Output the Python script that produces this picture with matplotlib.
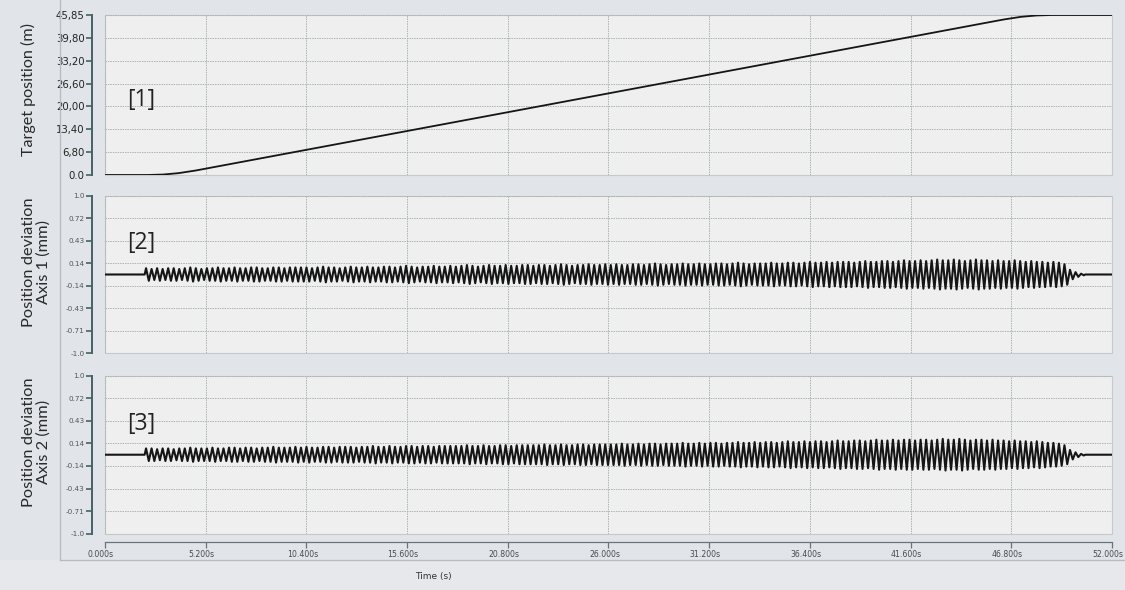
import numpy as np
from matplotlib import pyplot as plt
from matplotlib.lines import Line2D
from matplotlib.patches import Rectangle
from matplotlib.transforms import ScaledTranslation

# target position profile (s, m)
target_t = [0.0, 2.2, 3.0, 3.8, 4.7, 10.4, 20.8, 31.2, 41.6, 46.4, 47.3, 48.1, 48.9, 52.0]
target_m = [0.0, 0.0, 0.13, 0.53, 1.30, 7.21, 17.99, 28.78, 39.57, 44.55, 45.32, 45.71, 45.85, 45.85]

# oscillation of the position deviation, one amplitude per cycle (mm)
dev_start = 2.05
dev_period = 0.2857
dev1_amp = [
    0.08, 0.07, 0.08, 0.07, 0.08, 0.08, 0.07, 0.08, 0.09, 0.08, 0.07, 0.08, 0.08, 0.09,
    0.08, 0.08, 0.09, 0.08, 0.08, 0.09, 0.09, 0.08, 0.08, 0.09, 0.09, 0.08, 0.09, 0.09,
    0.09, 0.09, 0.08, 0.09, 0.10, 0.09, 0.09, 0.08, 0.09, 0.10, 0.09, 0.09, 0.10, 0.09,
    0.09, 0.10, 0.10, 0.09, 0.10, 0.11, 0.10, 0.09, 0.10, 0.10, 0.11, 0.10, 0.10, 0.11,
    0.10, 0.11, 0.12, 0.11, 0.10, 0.11, 0.12, 0.11, 0.11, 0.12, 0.11, 0.11, 0.12, 0.12,
    0.11, 0.12, 0.12, 0.11, 0.12, 0.13, 0.12, 0.11, 0.12, 0.12, 0.13, 0.12, 0.12, 0.13,
    0.12, 0.13, 0.12, 0.12, 0.13, 0.13, 0.12, 0.13, 0.14, 0.13, 0.12, 0.13, 0.13, 0.14,
    0.13, 0.13, 0.14, 0.13, 0.13, 0.14, 0.14, 0.13, 0.14, 0.15, 0.14, 0.13, 0.14, 0.14,
    0.14, 0.15, 0.14, 0.14, 0.15, 0.15, 0.14, 0.15, 0.16, 0.15, 0.15, 0.16, 0.15, 0.16,
    0.16, 0.16, 0.15, 0.16, 0.17, 0.16, 0.16, 0.17, 0.17, 0.16, 0.17, 0.18, 0.17, 0.17,
    0.18, 0.17, 0.18, 0.19, 0.18, 0.18, 0.19, 0.18, 0.17, 0.18, 0.19, 0.18, 0.18, 0.17,
    0.18, 0.17, 0.17, 0.18, 0.17, 0.16, 0.17, 0.16, 0.16, 0.15, 0.16, 0.15, 0.13, 0.06,
    0.03, 0.01,
]
dev2_amp = [
    0.08, 0.08, 0.07, 0.08, 0.08, 0.07, 0.08, 0.08, 0.09, 0.08, 0.08, 0.08, 0.09, 0.08,
    0.08, 0.09, 0.09, 0.08, 0.09, 0.09, 0.08, 0.09, 0.09, 0.10, 0.09, 0.09, 0.09, 0.10,
    0.09, 0.10, 0.09, 0.09, 0.10, 0.10, 0.09, 0.10, 0.10, 0.10, 0.09, 0.10, 0.10, 0.11,
    0.10, 0.10, 0.11, 0.10, 0.10, 0.11, 0.11, 0.10, 0.11, 0.11, 0.10, 0.11, 0.11, 0.11,
    0.11, 0.11, 0.12, 0.11, 0.11, 0.12, 0.11, 0.11, 0.12, 0.12, 0.11, 0.12, 0.12, 0.12,
    0.12, 0.12, 0.13, 0.12, 0.12, 0.13, 0.12, 0.12, 0.13, 0.13, 0.12, 0.13, 0.13, 0.13,
    0.13, 0.13, 0.14, 0.13, 0.13, 0.14, 0.13, 0.14, 0.14, 0.13, 0.14, 0.14, 0.14, 0.15,
    0.14, 0.14, 0.15, 0.14, 0.15, 0.15, 0.14, 0.15, 0.15, 0.16, 0.15, 0.15, 0.16, 0.15,
    0.16, 0.16, 0.15, 0.16, 0.17, 0.16, 0.16, 0.17, 0.16, 0.17, 0.17, 0.16, 0.17, 0.18,
    0.17, 0.17, 0.18, 0.18, 0.17, 0.18, 0.19, 0.18, 0.18, 0.19, 0.18, 0.19, 0.19, 0.18,
    0.19, 0.19, 0.18, 0.19, 0.20, 0.19, 0.19, 0.20, 0.19, 0.18, 0.19, 0.19, 0.18, 0.19,
    0.18, 0.18, 0.17, 0.18, 0.17, 0.17, 0.16, 0.17, 0.16, 0.15, 0.15, 0.14, 0.12, 0.06,
    0.03, 0.01,
]

x_ticks = [0.0, 5.2, 10.4, 15.6, 20.8, 26.0, 31.2, 36.4, 41.6, 46.8, 52.0]
pos_ticklabels = ["0.0", "6,80", "13,40", "20,00", "26,60", "33,20", "39,80", "45,85"]
dev_ticklabels = ["-1.0", "-0.71", "-0.43", "-0.14", "0.14", "0.43", "0.72", "1.0"]
panel_tags = ["[1]", "[2]", "[3]"]
y_labels = ["Target position (m)", "Position deviation\nAxis 1 (mm)", "Position deviation\nAxis 2 (mm)"]

BG = "#e1e4e8"
PLOT_BG = "#efefef"
GRID = "#a9b6b0"
SPINE = "#44626a"


def zigzag(amps):
    # alternate +a / -a at quarter periods, flat zero before and after
    t = [0.0, dev_start]
    v = [0.0, 0.0]
    for i, a in enumerate(amps):
        t += [dev_start + (i + 0.25) * dev_period, dev_start + (i + 0.75) * dev_period]
        v += [a, -a]
    t += [dev_start + len(amps) * dev_period, 52.0]
    v += [0.0, 0.0]
    return np.array(t), np.array(v)


def style_axis(ax, show_x):
    ax.set_facecolor(PLOT_BG)
    ax.patch.set_edgecolor("#c6c9cc")
    ax.patch.set_linewidth(0.8)
    for s in ["top", "right", "bottom"]:
        ax.spines[s].set_visible(False)
    ax.spines["left"].set_position(("outward", 9))
    ax.spines["left"].set_color(SPINE)
    ax.spines["left"].set_linewidth(1.4)
    ax.tick_params(axis="y", direction="out", length=4, width=1.2, color=SPINE, pad=1.5)
    ax.set_xlim(0, 52)
    ax.set_xticks(x_ticks)
    ax.grid(True, color=GRID, linestyle=(0, (1.5, 1)), linewidth=0.7)
    ax.set_axisbelow(True)
    if show_x:
        ax.spines["bottom"].set_visible(True)
        ax.spines["bottom"].set_position(("outward", 6))
        ax.spines["bottom"].set_color("#6a7378")
        ax.spines["bottom"].set_linewidth(0.9)
        ax.tick_params(axis="x", direction="out", length=4, width=0.9, color="#6a7378",
                       labelsize=5.6, labelcolor="#4a4a4a", pad=2)
        ax.set_xticklabels([f"{v:.3f}s" for v in x_ticks])
    else:
        ax.tick_params(axis="x", length=0, labelbottom=False)


fig = plt.figure(figsize=(11.25, 5.9), dpi=100, facecolor=BG)
fig.patches.append(Rectangle((0, 0), 1, 30 / 590, transform=fig.transFigure,
                             facecolor="#e6e8eb", edgecolor="none", zorder=-5))
fig.add_artist(Line2D([60 / 1125, 60 / 1125], [30 / 590, 1], transform=fig.transFigure,
                      color="#b5babf", lw=0.9))
fig.add_artist(Line2D([60 / 1125, 1], [30 / 590, 30 / 590], transform=fig.transFigure,
                      color="#b5babf", lw=0.9))

ax1 = fig.add_axes([0.0933, 0.7034, 0.8951, 0.2712])
ax2 = fig.add_axes([0.0933, 0.4012, 0.8951, 0.2671])
ax3 = fig.add_axes([0.0933, 0.0954, 0.8951, 0.2678])

style_axis(ax1, False)
ax1.plot(target_t, target_m, color="#151515", lw=1.3)
ax1.set_ylim(0, 45.85)
ax1.set_yticks(np.linspace(0, 45.85, 8))
ax1.set_yticklabels(pos_ticklabels)
ax1.tick_params(axis="y", labelsize=7.3, labelcolor="#222222")

for ax, amps in [(ax2, dev1_amp), (ax3, dev2_amp)]:
    style_axis(ax, ax is ax3)
    t, v = zigzag(amps)
    ax.plot(t, v, color="#151515", lw=1.5)
    ax.set_ylim(-1, 1)
    ax.set_yticks(np.linspace(-1, 1, 8))
    ax.set_yticklabels(dev_ticklabels)
    ax.tick_params(axis="y", labelsize=5.2, labelcolor="#555555")

# time labels sit a few pixels left of their ticks
shift = ScaledTranslation(-4 / 100, 0, fig.dpi_scale_trans)
for lab in ax3.get_xticklabels():
    lab.set_transform(lab.get_transform() + shift)

for ax, tag, ty in zip([ax1, ax2, ax3], panel_tags, [0.47, 0.70, 0.694]):
    ax.text(0.036, ty, tag, transform=ax.transAxes, ha="center", va="center",
            fontsize=16.5, family="Open Sans", color="#222222")

fig.text(28 / 1125, 1 - 90 / 590, y_labels[0], rotation=90, ha="center", va="center",
         fontsize=11.6, family="Lato", color="#2a2a2a")
fig.text(36 / 1125, 1 - 262 / 590, y_labels[1], rotation=90, ha="center", va="center",
         fontsize=11.8, family="Lato", color="#2a2a2a", multialignment="center", linespacing=1.05)
fig.text(36 / 1125, 1 - 442 / 590, y_labels[2], rotation=90, ha="center", va="center",
         fontsize=11.8, family="Lato", color="#2a2a2a", multialignment="center", linespacing=1.05)
fig.text(433 / 1125, 1 - 576 / 590, "Time (s)", ha="center", va="center",
         fontsize=6.5, color="#333333")

fig.savefig("out.png", dpi=100, facecolor=BG)
